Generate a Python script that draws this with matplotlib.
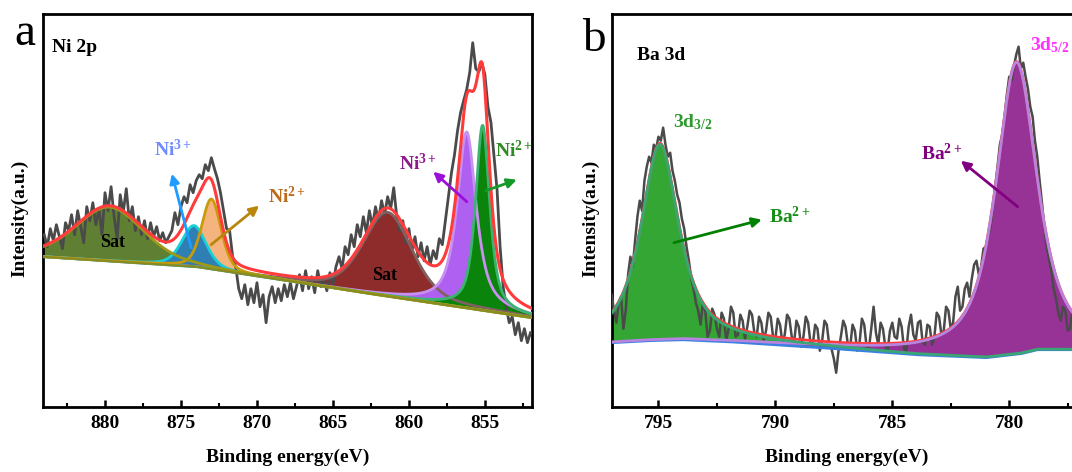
import numpy as np
import matplotlib
matplotlib.use('Agg')
import matplotlib.pyplot as plt
from matplotlib.ticker import MultipleLocator

plt.rcParams['font.family'] = ['Liberation Serif', 'DejaVu Serif']
plt.rcParams['font.weight'] = 'bold'
plt.rcParams['axes.labelweight'] = 'bold'
plt.rcParams['mathtext.fontset'] = 'custom'
plt.rcParams['mathtext.rm'] = 'Liberation Serif:bold'
plt.rcParams['mathtext.bf'] = 'Liberation Serif:bold'
plt.rcParams['mathtext.it'] = 'Liberation Serif:bold'
plt.rcParams['mathtext.default'] = 'rm'

# ---------------- Data: Ni 2p ----------------
ni_energy = np.round(np.linspace(884.0, 852.0, 161), 1)
ni_counts = [172, 160, 178, 166, 182, 170, 158, 184, 176, 192,
             172, 196, 180, 164, 200, 186, 204, 182, 198, 172,
             214, 196, 220, 190, 168, 212, 194, 218, 186, 200,
             176, 190, 172, 186, 168, 184, 170, 180, 166, 174,
             164, 170, 176, 194, 182, 200, 210, 204, 222, 214,
             226, 232, 228, 242, 236, 249, 238, 228, 214, 196,
             178, 176, 150, 140, 118, 108, 122, 102, 118, 104,
             124, 100, 112, 84, 110, 120, 104, 118, 106, 122,
             110, 124, 108, 120, 132, 116, 136, 118, 130, 114,
             136, 120, 128, 116, 134, 122, 140, 150, 138, 160,
             152, 172, 160, 182, 170, 190, 174, 196, 180, 200,
             186, 206, 192, 210, 198, 219, 190, 176, 186, 164,
             178, 156, 170, 150, 164, 146, 160, 142, 156, 148,
             168, 162, 186, 210, 234, 252, 276, 294, 306, 317,
             334, 364, 338, 335, 344, 332, 300, 284, 250, 217,
             160, 120, 100, 84, 90, 72, 84, 66, 78, 64,
             74]
ni_bg_energy = [884.1, 874.0, 863.0, 851.9]
ni_bg_counts = [150, 140, 114, 89]
ni_peak_names = ['Sat', 'Ni3+', 'Ni2+', 'Sat', 'Ni3+', 'Ni2+']
ni_peak_center = [879.7, 874.15, 873.0, 861.4, 856.2, 855.15]
ni_peak_height = [54, 41, 70, 84, 176, 185]
ni_peak_fwhm = [5.3, 1.9, 1.5, 3.8, 1.5, 1.1]
ni_peak_eta = [0.3, 0.4, 0.35, 0.4, 0.8, 0.7]

# ---------------- Data: Ba 3d ----------------
ba_energy = np.round(np.linspace(797.0, 777.0, 201), 1)
ba_counts = [112, 96, 84, 104, 110, 78, 96, 132, 150, 140,
             166, 190, 206, 196, 226, 240, 250, 244, 262, 258,
             270, 266, 279, 262, 250, 254, 236, 226, 212, 204,
             188, 178, 160, 146, 128, 118, 104, 96, 82, 104,
             96, 70, 76, 98, 92, 78, 70, 94, 88, 66,
             78, 100, 94, 70, 72, 92, 86, 68, 80, 96,
             92, 74, 70, 90, 84, 66, 76, 94, 90, 70,
             68, 88, 82, 64, 72, 92, 88, 70, 64, 86,
             80, 60, 70, 90, 84, 64, 62, 82, 78, 56,
             66, 86, 82, 62, 58, 48, 34, 56, 70, 86,
             80, 62, 60, 82, 76, 56, 64, 88, 82, 60,
             58, 78, 100, 74, 62, 84, 78, 60, 56, 76,
             84, 70, 68, 88, 80, 58, 56, 80, 92, 72,
             66, 84, 86, 64, 62, 82, 80, 62, 70, 94,
             90, 72, 76, 100, 96, 78, 84, 110, 120, 96,
             100, 118, 124, 110, 128, 142, 146, 132, 140, 158,
             160, 170, 180, 200, 220, 240, 262, 272, 290, 312,
             330, 326, 340, 352, 360, 338, 344, 330, 318, 300,
             290, 266, 250, 226, 204, 180, 160, 148, 136, 118,
             108, 94, 86, 100, 96, 76, 78, 96, 88, 68,
             72]
ba_bg_energy = [797.0, 795.5, 794.0, 792.0, 788.0, 784.0, 781.0, 779.5, 778.8, 776.9]
ba_bg_counts = [64, 66, 67, 65, 59, 52, 49, 53, 57, 57]
ba_peak_names = ['3d3/2', '3d5/2']
ba_peak_center = [794.94, 779.69]
ba_peak_height = [196, 292]
ba_peak_fwhm = [1.92, 2.1]
ba_peak_eta = [0.8, 0.75]


def pv(x, c, h, w, eta):
    d = (x - c) / w
    return h * (eta / (1 + 4 * d ** 2) + (1 - eta) * np.exp(-4 * np.log(2) * d ** 2))


W, H = 1072, 472
fig = plt.figure(figsize=(W / 100, H / 100), dpi=100)
bottom_px, top_px = 406.7, 13.5
ax_a = fig.add_axes([42.7 / W, (H - bottom_px) / H, 489.3 / W, (bottom_px - top_px) / H])
ax_b = fig.add_axes([611.7 / W, (H - bottom_px) / H, 470.0 / W, (bottom_px - top_px) / H])

# ---------------- Panel a ----------------
ga = np.linspace(884.1, 851.9, 1500)
bga = np.interp(ga, ni_bg_energy[::-1], ni_bg_counts[::-1])
comps_a = [pv(ga, c, h, w, e) for c, h, w, e in
           zip(ni_peak_center, ni_peak_height, ni_peak_fwhm, ni_peak_eta)]
fills_a = ['#5f7f32', '#2f7fb5', '#f5b47e', '#8e2b2b', '#b060f0', '#0b840b']
edges_a = ['#9d9b16', '#18d0d8', '#c89b0a', '#806060', '#c890f0', '#3cb371']
for i in [0, 2, 1, 3, 4, 5]:
    ax_a.fill_between(ga, bga, bga + comps_a[i], color=fills_a[i], lw=0, zorder=2)
    if i == 4:
        ax_a.fill_between(ga, bga, bga + comps_a[i], where=ga <= 855.45,
                          color='#7652d2', lw=0, zorder=2)
ax_a.plot(ni_energy, ni_counts, color='#4a4a4a', lw=2.0, zorder=3)
for i in [3, 4, 5, 1, 2, 0]:
    ax_a.plot(ga, bga + comps_a[i], color=edges_a[i], lw=2.0, zorder=4)
ax_a.plot(ga, bga, color='#8a8a20', lw=1.5, zorder=4)
ax_a.plot(ga, bga + np.sum(comps_a, axis=0), color='#ff3b3b', lw=2.2, zorder=5)

ax_a.set_xlim(884.1, 851.9)
ax_a.set_ylim(0, 393.2)

arrow_kw = dict(arrowstyle='-|>', lw=2.0, mutation_scale=14, shrinkA=0, shrinkB=0)
ax_a.annotate('', xy=(875.6, 233), xytext=(874.33, 159),
              arrowprops=dict(color='#1e9bff', **arrow_kw), zorder=6)
ax_a.text(875.53, 257, 'Ni$^{3+}$', color='#6f8cff', fontsize=14, ha='center', va='center')
ax_a.annotate('', xy=(869.86, 201), xytext=(873.02, 162),
              arrowprops=dict(color='#b8860b', **arrow_kw), zorder=6)
ax_a.text(868.0, 210, 'Ni$^{2+}$', color='#bb6a1c', fontsize=14, ha='center', va='center')
ax_a.annotate('', xy=(858.4, 235), xytext=(856.19, 205),
              arrowprops=dict(color='#9b10d8', **arrow_kw), zorder=6)
ax_a.text(859.4, 243, 'Ni$^{3+}$', color='#8b1a8b', fontsize=14, ha='center', va='center')
ax_a.annotate('', xy=(852.9, 227), xytext=(854.94, 216),
              arrowprops=dict(color='#159a2a', **arrow_kw), zorder=6)
ax_a.text(853.1, 256, 'Ni$^{2+}$', color='#2e8b22', fontsize=14, ha='center', va='center')
ax_a.text(879.47, 164, 'Sat', color='black', fontsize=13, ha='center', va='center', zorder=6)
ax_a.text(861.6, 131, 'Sat', color='black', fontsize=13, ha='center', va='center', zorder=6)
ax_a.text(0.019, 0.913, 'Ni 2p', transform=ax_a.transAxes, fontsize=14,
          ha='left', va='center')

# ---------------- Panel b ----------------
gb = np.linspace(797.0, 776.9, 1200)
bgb = np.interp(gb, ba_bg_energy[::-1], ba_bg_counts[::-1])
comps_b = [pv(gb, c, h, w, e) for c, h, w, e in
           zip(ba_peak_center, ba_peak_height, ba_peak_fwhm, ba_peak_eta)]
fills_b = ['#34a634', '#973296']
edges_b = ['#3aa675', '#b784e0']
for i in range(2):
    ax_b.fill_between(gb, bgb, bgb + comps_b[i], color=fills_b[i], lw=0, zorder=2)
ax_b.plot(ba_energy, ba_counts, color='#4a4a4a', lw=1.8, zorder=3)
ax_b.plot(gb, bgb, color='#3a80e0', lw=2.0, zorder=4)
ax_b.plot(gb, bgb + np.sum(comps_b, axis=0), color='#ff3b3b', lw=2.0, zorder=4)
for i in [1, 0]:
    ax_b.plot(gb, bgb + comps_b[i], color=edges_b[i], lw=2.0, zorder=5)

ax_b.set_xlim(797.0, 776.9)
ax_b.set_ylim(0, 393.2)

ax_b.text(793.52, 285, '3d$_{3/2}$', color='#2e9a2e', fontsize=14, ha='center', va='center')
ax_b.text(778.26, 362, '3d$_{5/2}$', color='#ff33ff', fontsize=14, ha='center', va='center')
ax_b.annotate('', xy=(790.58, 187), xytext=(794.34, 164),
              arrowprops=dict(color='#008000', **arrow_kw), zorder=6)
ax_b.text(789.38, 190, 'Ba$^{2+}$', color='#159015', fontsize=14, ha='center', va='center')
ax_b.annotate('', xy=(782.07, 246), xytext=(779.64, 200),
              arrowprops=dict(color='#800080', **arrow_kw), zorder=6)
ax_b.text(782.88, 253, 'Ba$^{2+}$', color='#800080', fontsize=14, ha='center', va='center')
ax_b.text(0.054, 0.892, 'Ba 3d', transform=ax_b.transAxes, fontsize=14,
          ha='left', va='center')

# ---------------- Common styling ----------------
for ax, lx in ((ax_a, -0.046), (ax_b, -0.044)):
    ax.xaxis.set_major_locator(MultipleLocator(5))
    ax.xaxis.set_minor_locator(MultipleLocator(2.5))
    ax.tick_params(axis='x', which='major', direction='in', length=5, width=1.8,
                   labelsize=14, pad=6, top=False)
    ax.tick_params(axis='x', which='minor', direction='in', length=3, width=1.5, top=False)
    for lbl in ax.get_xticklabels():
        lbl.set_fontweight('bold')
    ax.set_yticks([])
    for s in ax.spines.values():
        s.set_linewidth(2.0)
    ax.set_xlabel('Binding energy(eV)', fontsize=14, fontweight='bold')
    ax.xaxis.set_label_coords(0.5, -0.13)
    ax.xaxis.label.set_va('center')
    ax.set_ylabel('Intensity(a.u.)', fontsize=14, fontweight='bold')
    ax.yaxis.set_label_coords(lx, 0.48)
    ax.yaxis.label.set_va('center')

fig.text(25 / W, (H - 45) / H, 'a', fontsize=34, fontweight='normal', ha='center', va='baseline')
fig.text(594 / W, (H - 51) / H, 'b', fontsize=34, fontweight='normal', ha='center', va='baseline')

fig.savefig('out.png', dpi=100)
